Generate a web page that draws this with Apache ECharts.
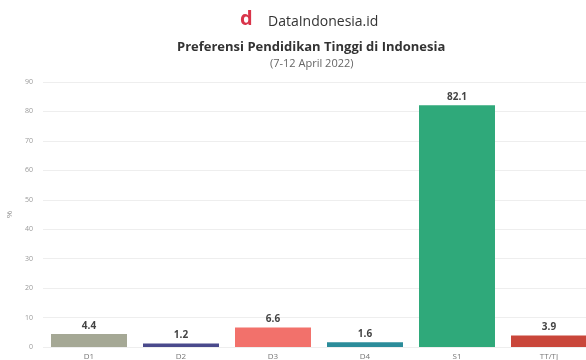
<!DOCTYPE html>
<html><head><meta charset="utf-8">
<script src="https://cdn.jsdelivr.net/npm/echarts@6/dist/echarts.min.js"></script>
<style>html,body{margin:0;padding:0;background:#fff}#c{width:586px;height:360px}</style>
</head><body><div id="c"></div>
<script>
const categories = ["D1","D2","D3","D4","S1","TT/TJ"];
const values = [4.4, 1.2, 6.6, 1.6, 82.1, 3.9];
const barColors = ["#a5a895","#4a4a8c","#f2716b","#2b8c9a","#2fa97a","#c9463a"];
const yTicks = [0,10,20,30,40,50,60,70,80,90];

const chart = echarts.init(document.getElementById('c'));
chart.setOption({
  backgroundColor:'#fff',
  animation:false,
  title:[
    {text:'DataIndonesia.id', left:263, top:10, textStyle:{fontFamily:'Open Sans',fontSize:14,fontWeight:'normal',color:'#333'}},
    {text:'Preferensi Pendidikan Tinggi di Indonesia', left:172, top:36, textStyle:{fontFamily:'Open Sans',fontSize:13,fontWeight:'bold',color:'#333'}},
    {text:'(7-12 April 2022)', left:265, top:53, textStyle:{fontFamily:'Open Sans',fontSize:11,fontWeight:'normal',color:'#666'}}
  ],
  graphic:[
    {type:'text', left:240, top:9, style:{text:'d', font:'bold 20px "Open Sans"', fill:'#d9344a'}}
  ],
  grid:{left:43, width:552, top:82, bottom:13, outerBoundsMode:'none', containLabel:false},
  xAxis:{type:'category', data:categories,
    axisLine:{show:false}, axisTick:{show:false},
    axisLabel:{fontFamily:'Open Sans', fontSize:8, color:'#777', margin:6}},
  yAxis:{type:'value', min:yTicks[0], max:yTicks[yTicks.length-1], interval:10,
    name:'%', nameLocation:'middle', nameGap:22, nameTextStyle:{fontSize:8,color:'#888'},
    axisLine:{show:false}, axisTick:{show:false},
    axisLabel:{fontFamily:'Open Sans', fontSize:7, color:'#999', margin:10},
    splitLine:{lineStyle:{color:'#eee', width:1}}},
  series:[{type:'bar', data:values.map((v,i)=>({value:v, itemStyle:{color:barColors[i]}})),
    barCategoryGap:'17.4%',
    label:{show:true, position:'top', fontFamily:'Open Sans', fontSize:10, fontWeight:'bold', color:'#444', distance:3}}]
});
</script></body></html>
